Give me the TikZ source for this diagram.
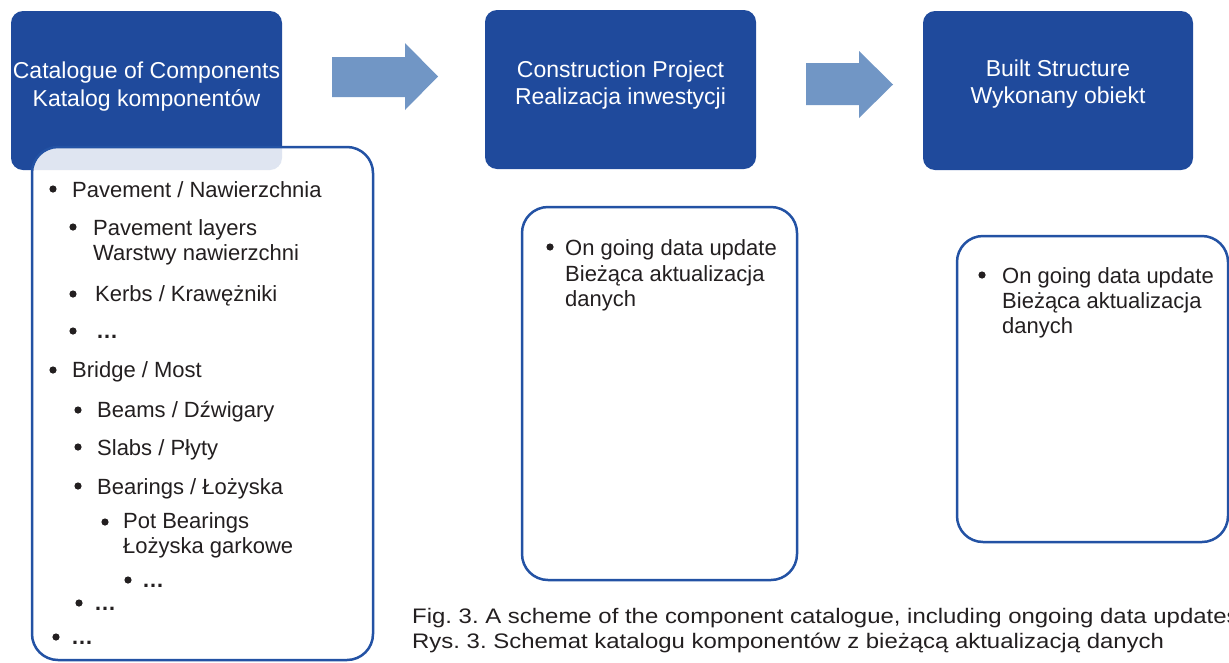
\documentclass[tikz,border=0pt]{standalone}
\usepackage{fontspec}
\setmainfont{Liberation Sans}
\newfontfamily\capfont{Liberation Sans}[FakeStretch=1.14]
\frenchspacing
\definecolor{boxblue}{HTML}{1F4A9C}
\definecolor{arrowblue}{HTML}{7196C5}
\definecolor{lineblue}{HTML}{2352A4}
\definecolor{txt}{HTML}{231F20}
\tikzset{
  headbox/.style={fill=boxblue, draw=none, rounded corners=12pt},
  listbox/.style={draw=lineblue, line width=2.5pt, rounded corners=26pt, fill=white},
  bigarrow/.style={fill=arrowblue, draw=none},
  headtxt/.style={inner sep=0pt, anchor=base, text=white, font=\fontsize{23}{27}\selectfont},
  itemtxt/.style={inner sep=0pt, anchor=base west, text=txt, font=\fontsize{22}{25}\selectfont},
  ellips/.style={inner sep=0pt, anchor=base west, text=txt, font=\bfseries\fontsize{22}{25}\selectfont},
  captxt/.style={inner sep=0pt, anchor=base west, text=txt, font=\capfont\fontsize{21}{25}\selectfont},
  dot/.style={fill=txt}
}
\begin{document}
\begin{tikzpicture}[x=1pt,y=-1pt]
\useasboundingbox (0,0) rectangle (1229,662);
\clip (0,0) rectangle (1229,662);

% header boxes
\fill[headbox] (11,11) rectangle (282,170);
\fill[headbox] (485,10) rectangle (756,169);
\fill[headbox] (923,11) rectangle (1193,170);

\node[headtxt] (h1a) at (146.5,78) {Catalogue of Components};
\node[headtxt] (h1b) at (146.5,106) {Katalog komponentów};
\node[headtxt] (h2a) at (620.5,77) {Construction Project};
\node[headtxt] (h2b) at (620.5,104) {Realizacja inwestycji};
\node[headtxt] (h3a) at (1058,76) {Built Structure};
\node[headtxt] (h3b) at (1058,103) {Wykonany obiekt};

% arrows
\fill[bigarrow] (332,57) -- (405,57) -- (405,43) -- (438,76.5) -- (405,110) -- (405,97) -- (332,97) -- cycle;
\fill[bigarrow] (806,63) -- (859,63) -- (859,51) -- (893,84.5) -- (859,118) -- (859,105) -- (806,105) -- cycle;

% list boxes
\draw[listbox, fill opacity=0.86] (32,147) rectangle (373,660);
\draw[listbox] (522,207) rectangle (797,580);
\draw[listbox] (957,236) rectangle (1228,542);

% list 1
\fill[dot] (53,189) circle (3.6pt);
\node[itemtxt] (i1) at (72,197) {Pavement / Nawierzchnia};
\fill[dot] (73,227) circle (3.6pt);
\node[itemtxt] (i2a) at (93,235) {Pavement layers};
\node[itemtxt] (i2b) at (93,260) {Warstwy nawierzchni};
\fill[dot] (73,294) circle (3.6pt);
\node[itemtxt] (i3) at (95,301) {Kerbs / Krawężniki};
\fill[dot] (73,331) circle (3.6pt);
\node[ellips] (i4) at (96,338) {…};
\fill[dot] (53,370) circle (3.6pt);
\node[itemtxt] (i5) at (72,377) {Bridge / Most};
\fill[dot] (78,410) circle (3.6pt);
\node[itemtxt] (i6) at (97,417) {Beams / Dźwigary};
\fill[dot] (78,447) circle (3.6pt);
\node[itemtxt] (i7) at (97,455) {Slabs / Płyty};
\fill[dot] (78,486) circle (3.6pt);
\node[itemtxt] (i8) at (97,494) {Bearings / Łożyska};
\fill[dot] (105,522) circle (3.6pt);
\node[itemtxt] (i9a) at (123,528) {Pot Bearings};
\node[itemtxt] (i9b) at (123,553) {Łożyska garkowe};
\fill[dot] (128,580) circle (3.6pt);
\node[ellips] (i10) at (142,587) {…};
\fill[dot] (79,603) circle (3.6pt);
\node[ellips] (i11) at (94,610) {…};
\fill[dot] (56,637) circle (3.6pt);
\node[ellips] (i12) at (71,644) {…};

% list 2
\fill[dot] (550,247) circle (3.6pt);
\node[itemtxt] (j1) at (565,255) {On going data update};
\node[itemtxt] (j2) at (565,281) {Bieżąca aktualizacja};
\node[itemtxt] (j3) at (565,306) {danych};

% list 3
\fill[dot] (982,275) circle (3.6pt);
\node[itemtxt] (k1) at (1002,283) {On going data update};
\node[itemtxt] (k2) at (1002,308) {Bieżąca aktualizacja};
\node[itemtxt] (k3) at (1002,333) {danych};

% caption (cut off at the right edge, as in the reference)
\node[captxt] (c1) at (412,623) {Fig. 3. A scheme of the component catalogue, including ongoing data updates};
\node[captxt] (c2) at (412,648) {Rys. 3. Schemat katalogu komponentów z bieżącą aktualizacją danych};
\end{tikzpicture}
\end{document}
